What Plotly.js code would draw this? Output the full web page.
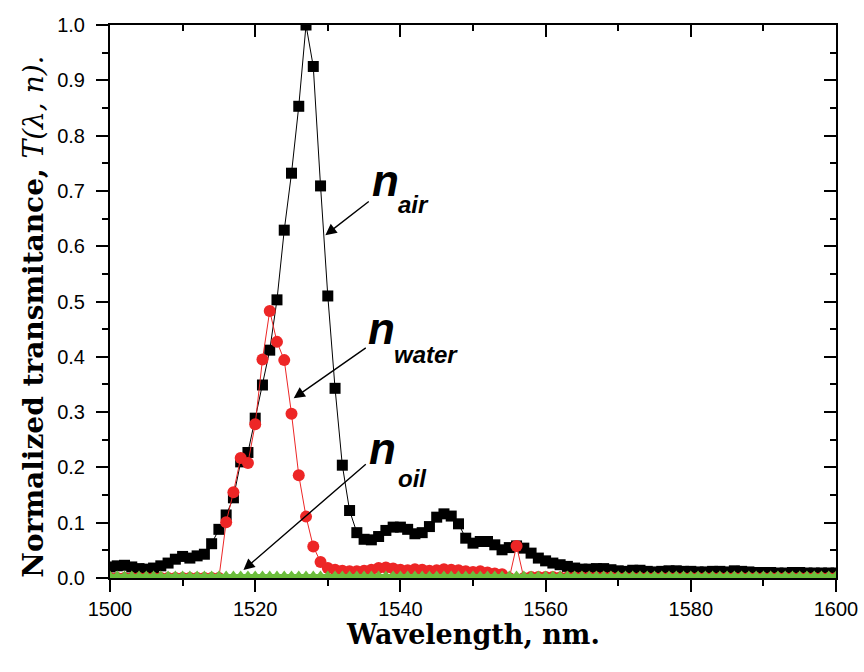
<!DOCTYPE html>
<html>
<head>
<meta charset="utf-8">
<script src="https://cdn.plot.ly/plotly-3.0.1.min.js"></script>
<style>html,body{margin:0;padding:0;background:#fff;}#chart{width:864px;height:672px;}</style>
</head>
<body>
<div id="chart"></div>
<script>
// Wavelength (nm)
const wavelength = [
1500,1501,1502,1503,1504,1505,1506,1507,1508,1509,
1510,1511,1512,1513,1514,1515,1516,1517,1518,1519,
1520,1521,1522,1523,1524,1525,1526,1527,1528,1529,
1530,1531,1532,1533,1534,1535,1536,1537,1538,1539,
1540,1541,1542,1543,1544,1545,1546,1547,1548,1549,
1550,1551,1552,1553,1554,1555,1556,1557,1558,1559,
1560,1561,1562,1563,1564,1565,1566,1567,1568,1569,
1570,1571,1572,1573,1574,1575,1576,1577,1578,1579,
1580,1581,1582,1583,1584,1585,1586,1587,1588,1589,
1590,1591,1592,1593,1594,1595,1596,1597,1598,1599,
1600];

// n_air (black squares)
const tAir = [
0.020,0.022,0.023,0.020,0.017,0.016,0.018,0.022,0.027,0.034,
0.039,0.036,0.040,0.043,0.062,0.088,0.114,0.145,0.210,0.227,
0.289,0.349,0.412,0.503,0.629,0.732,0.853,1.000,0.925,0.709,
0.510,0.343,0.204,0.122,0.082,0.070,0.069,0.075,0.086,0.092,
0.092,0.088,0.080,0.082,0.093,0.110,0.116,0.112,0.098,0.072,
0.063,0.066,0.066,0.060,0.051,0.055,0.058,0.054,0.045,0.036,
0.031,0.027,0.024,0.021,0.018,0.016,0.016,0.017,0.017,0.015,
0.013,0.012,0.014,0.014,0.012,0.011,0.012,0.013,0.013,0.012,
0.012,0.011,0.011,0.012,0.012,0.011,0.013,0.012,0.011,0.010,
0.010,0.010,0.009,0.009,0.010,0.010,0.009,0.009,0.009,0.009,
0.009];

// n_water (red circles)
const tWater = [
0.000,0.000,0.000,0.000,0.000,0.000,0.000,0.000,0.000,0.000,
0.000,0.000,0.000,0.000,0.000,0.000,0.101,0.155,0.217,0.208,
0.278,0.395,0.483,0.427,0.394,0.297,0.186,0.111,0.057,0.029,
0.018,0.015,0.013,0.012,0.012,0.013,0.015,0.018,0.019,0.017,
0.015,0.014,0.016,0.015,0.013,0.014,0.016,0.015,0.014,0.012,
0.011,0.012,0.010,0.008,0.007,0.000,0.058,0.000,0.002,0.002,
0.002,0.002,0.001,0.001,0.001,0.001,0.001,0.001,0.001,0.001,
0.000,0.000,0.000,0.000,0.000,0.000,0.000,0.000,0.000,0.000,
0.000,0.000,0.000,0.000,0.000,0.000,0.000,0.000,0.000,0.000,
0.000,0.000,0.000,0.000,0.000,0.000,0.000,0.000,0.000,0.000,
0.000];

// n_oil (green triangles)
const tOil = [
0.0045,0.0045,0.0045,0.0045,0.0045,0.0045,0.0045,0.0045,0.0045,0.0045,
0.0045,0.0045,0.0045,0.0045,0.0045,0.0045,0.0045,0.0045,0.0045,0.0045,
0.0045,0.0045,0.0045,0.0045,0.0045,0.0045,0.0045,0.0045,0.0045,0.0045,
0.0045,0.0045,0.0045,0.0045,0.0045,0.0045,0.0045,0.0045,0.0045,0.0045,
0.0045,0.0045,0.0045,0.0045,0.0045,0.0045,0.0045,0.0045,0.0045,0.0045,
0.0045,0.0045,0.0045,0.0045,0.0045,0.0045,0.0045,0.0045,0.0045,0.0045,
0.0045,0.0045,0.0045,0.0045,0.0045,0.0045,0.0045,0.0045,0.0045,0.0045,
0.0045,0.0045,0.0045,0.0045,0.0045,0.0045,0.0045,0.0045,0.0045,0.0045,
0.0045,0.0045,0.0045,0.0045,0.0045,0.0045,0.0045,0.0045,0.0045,0.0045,
0.0045,0.0045,0.0045,0.0045,0.0045,0.0045,0.0045,0.0045,0.0045,0.0045,
0.0045];

const seriesLabels = [
  {main: 'n', sub: 'air'},
  {main: 'n', sub: 'water'},
  {main: 'n', sub: 'oil'}
];
const xTitle = '<b>Wavelength, nm.</b>';
const yTitle = '<b>Normalized transmitance, </b><i>T(λ, n).</i>';

const traces = [
  {x: wavelength, y: tAir, type: 'scatter', mode: 'lines+markers', name: 'air',
   line: {color: '#000000', width: 1}, marker: {symbol: 'square', size: 11, color: '#000000'}},
  {x: wavelength, y: tWater, type: 'scatter', mode: 'lines+markers', name: 'water',
   line: {color: 'rgb(237,38,38)', width: 1}, marker: {symbol: 'circle', size: 12, color: 'rgb(237,38,38)'}},
  {x: wavelength, y: tOil, type: 'scatter', mode: 'lines+markers', name: 'oil',
   line: {color: 'rgb(108,190,60)', width: 3}, marker: {symbol: 'triangle-up', size: 10, color: 'rgb(108,190,60)'}},
  {x: [], y: [], xaxis: 'x2', yaxis: 'y2', type: 'scatter', showlegend: false, hoverinfo: 'skip'}
];

const tickFont = {family: 'Liberation Sans, Arial, sans-serif', size: 20, color: '#000'};
const titleFamily = 'DejaVu Serif, serif';

// label positions (data coords) and arrow geometry
const labelPos = [
  {nx: 1537.9, ny: 0.718, sx: 1539.4, sy: 0.675, ax: 1535.85, ay: 0.683, hx: 1529.66, hy: 0.620},
  {nx: 1537.4, ny: 0.451, sx: 1538.9, sy: 0.404, ax: 1535.44, ay: 0.418, hx: 1525.30, hy: 0.325},
  {nx: 1537.6, ny: 0.234, sx: 1539.4, sy: 0.180, ax: 1535.44, ay: 0.208, hx: 1518.38, hy: 0.0145}
];

const annotations = [];
seriesLabels.forEach((lab, i) => {
  const p = labelPos[i];
  annotations.push({xref: 'x', yref: 'y', x: p.nx, y: p.ny, text: '<b><i>' + lab.main + '</i></b>',
    showarrow: false, xanchor: 'center', yanchor: 'middle',
    font: {family: 'Liberation Sans, Arial, sans-serif', size: 44, color: '#000'}});
  annotations.push({xref: 'x', yref: 'y', x: p.sx, y: p.sy, text: '<b><i>' + lab.sub + '</i></b>',
    showarrow: false, xanchor: 'left', yanchor: 'middle',
    font: {family: 'Liberation Sans, Arial, sans-serif', size: 24, color: '#000'}});
  annotations.push({xref: 'x', yref: 'y', x: p.hx, y: p.hy, axref: 'x', ayref: 'y', ax: p.ax, ay: p.ay,
    text: '', showarrow: true, arrowhead: 2, arrowsize: 1.6, arrowwidth: 1.4, arrowcolor: '#000',
    standoff: 0, startstandoff: 0});
});
// axis titles
annotations.push({xref: 'paper', yref: 'paper', x: 0.5, y: -0.1025, text: xTitle, showarrow: false,
  xanchor: 'center', yanchor: 'middle', font: {family: titleFamily, size: 27, color: '#000'}});
annotations.push({xref: 'paper', yref: 'paper', x: -0.1047, y: 0.4726, text: yTitle, showarrow: false,
  textangle: -90, xanchor: 'center', yanchor: 'middle', font: {family: titleFamily, size: 28, color: '#000'}});

const layout = {
  width: 864, height: 672,
  margin: {l: 110, r: 28, t: 25, b: 94},
  paper_bgcolor: '#fff', plot_bgcolor: '#fff',
  showlegend: false,
  xaxis: {
    range: [1500, 1600], tick0: 1500, dtick: 20, tickmode: 'linear',
    ticks: 'outside', ticklen: 12, tickwidth: 2, tickcolor: '#000',
    minor: {dtick: 10, tick0: 1500, ticks: 'outside', ticklen: 6, tickwidth: 2, tickcolor: '#000', showgrid: false},
    showline: true, linewidth: 2, linecolor: '#000', showgrid: false, zeroline: false,
    tickfont: tickFont
  },
  yaxis: {
    range: [0, 1], tick0: 0, dtick: 0.1, tickmode: 'linear', tickformat: '.1f',
    ticks: 'outside', ticklen: 12, tickwidth: 2, tickcolor: '#000',
    minor: {dtick: 0.05, tick0: 0, ticks: 'outside', ticklen: 6, tickwidth: 2, tickcolor: '#000', showgrid: false},
    showline: true, linewidth: 2, linecolor: '#000', showgrid: false, zeroline: false,
    tickfont: tickFont, ticklabelstandoff: 7
  },
  xaxis2: {
    overlaying: 'x', side: 'top', range: [1500, 1600], tick0: 1500, dtick: 20, tickmode: 'linear',
    ticks: 'inside', ticklen: 12, tickwidth: 2, tickcolor: '#000', showticklabels: false,
    minor: {dtick: 10, tick0: 1500, ticks: 'inside', ticklen: 6, tickwidth: 2, tickcolor: '#000', showgrid: false},
    showline: true, linewidth: 2, linecolor: '#000', showgrid: false, zeroline: false
  },
  yaxis2: {
    overlaying: 'y', side: 'right', range: [0, 1], tick0: 0, dtick: 0.1, tickmode: 'linear',
    ticks: 'inside', ticklen: 12, tickwidth: 2, tickcolor: '#000', showticklabels: false,
    minor: {dtick: 0.05, tick0: 0, ticks: 'inside', ticklen: 6, tickwidth: 2, tickcolor: '#000', showgrid: false},
    showline: true, linewidth: 2, linecolor: '#000', showgrid: false, zeroline: false
  },
  annotations: annotations
};

Plotly.newPlot('chart', traces, layout, {staticPlot: true, displayModeBar: false});
</script>
</body>
</html>
